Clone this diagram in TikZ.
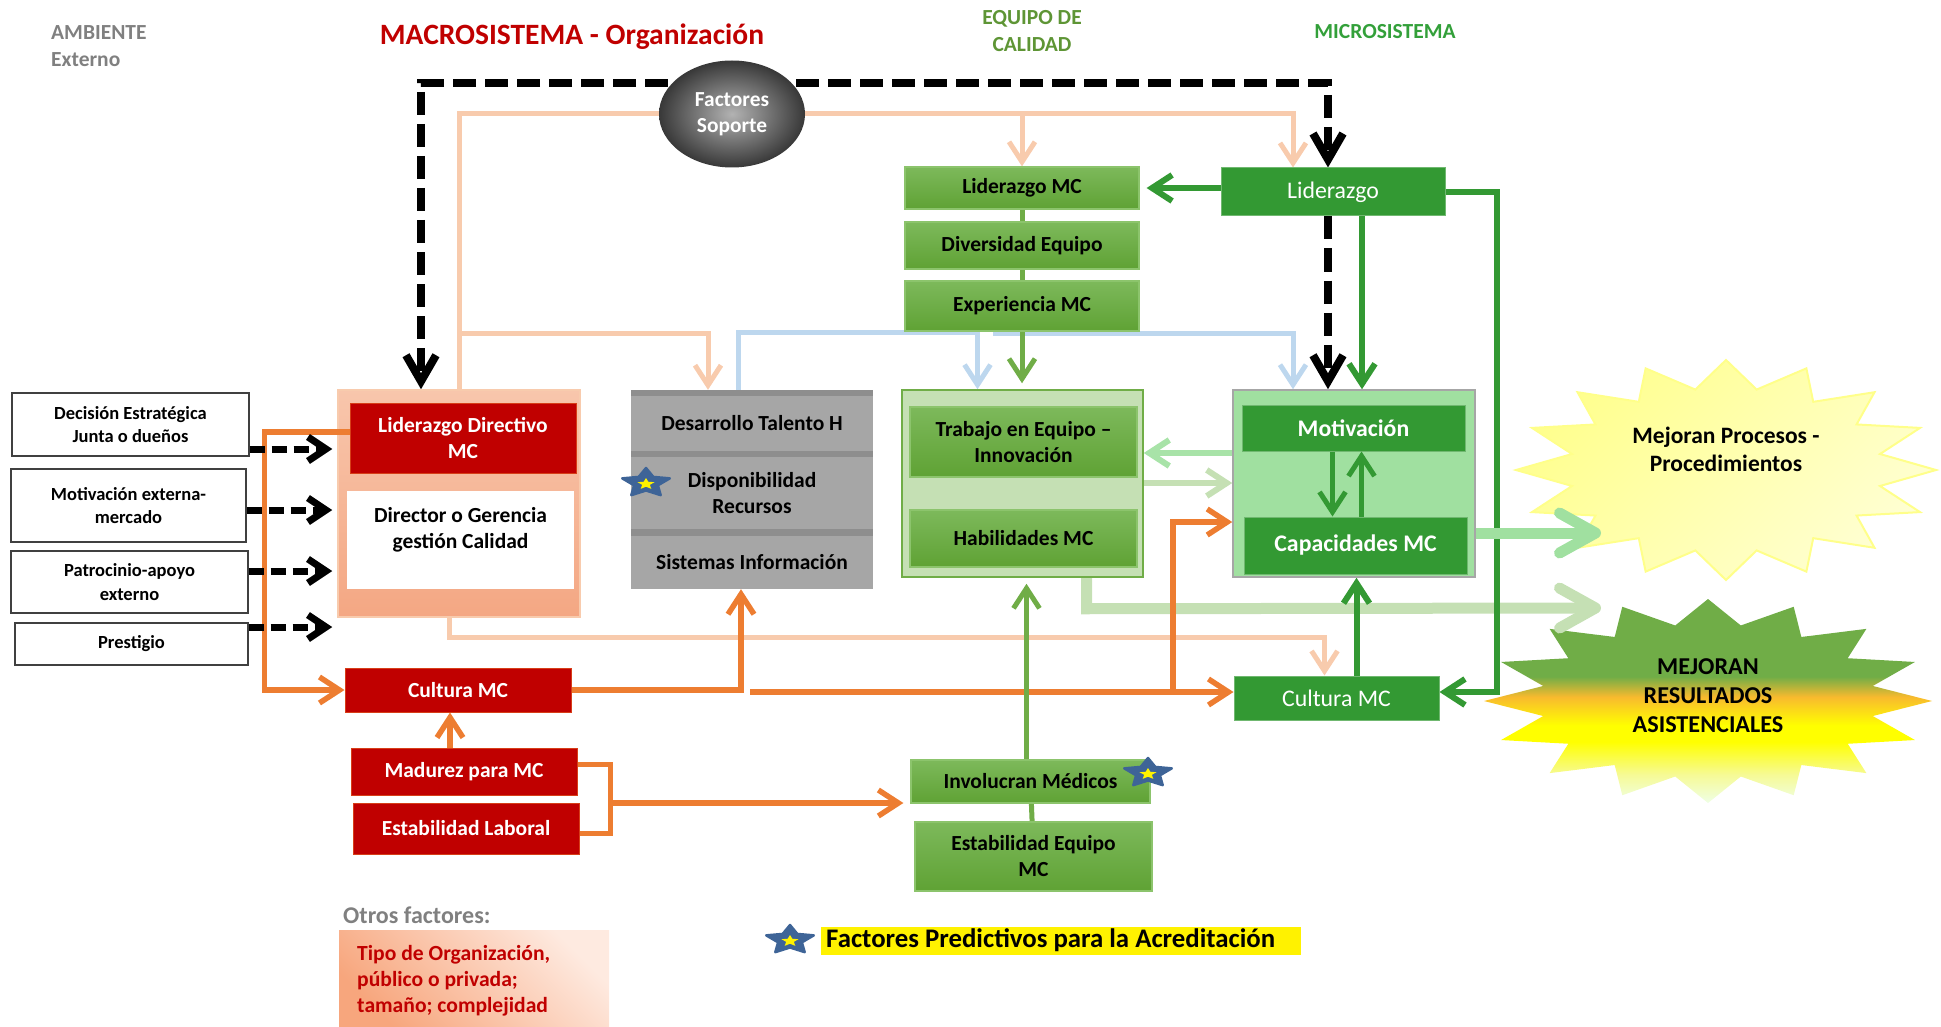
\documentclass[tikz,border=0pt]{standalone}
\usepackage{fontspec}
\setmainfont{Carlito}
\usetikzlibrary{arrows.meta, calc, positioning, shapes.geometric}

\definecolor{rojo}{HTML}{C00000}
\definecolor{naranja}{HTML}{ED7D31}
\definecolor{durazno}{HTML}{F8CBAD}
\definecolor{celeste}{HTML}{BDD7EE}
\definecolor{verdeosc}{HTML}{339933}
\definecolor{verdemc}{HTML}{70AD47}
\definecolor{verdeA}{HTML}{7DB95B}
\definecolor{verdeB}{HTML}{5FA234}
\definecolor{verdeborde}{HTML}{8CC46C}
\definecolor{verdeclaro}{HTML}{C5E0B4}
\definecolor{verdementa}{HTML}{A0E0A0}
\definecolor{flechamenta}{HTML}{A8E3A8}
\definecolor{gris}{HTML}{A6A6A6}
\definecolor{grisband}{HTML}{8E8E8E}
\definecolor{gristxt}{HTML}{808080}
\definecolor{azulest}{HTML}{3E6497}
\definecolor{oliva}{HTML}{5E9535}
\definecolor{verdetit}{HTML}{33A03A}
\definecolor{grupoA}{HTML}{F8C6AC}
\definecolor{grupoB}{HTML}{F4A783}
\definecolor{otrosA}{HTML}{FEEAE0}
\definecolor{otrosB}{HTML}{F7A67D}
\definecolor{mpA}{HTML}{FFFF8E}
\definecolor{mpB}{HTML}{FFFFD2}
\definecolor{mpborde}{HTML}{FFFF8A}
\definecolor{respale}{HTML}{EFFFE6}
\definecolor{reslimon}{HTML}{F6FA95}
\definecolor{resamar}{HTML}{FFFF00}
\definecolor{resnaranja}{HTML}{F8BA2E}
\pgfdeclareverticalshading{resultshade}{100bp}{color(0bp)=(respale); color(25bp)=(respale);
  color(32bp)=(reslimon); color(40bp)=(resamar); color(44bp)=(resamar);
  color(51bp)=(resnaranja); color(56bp)=(verdemc); color(100bp)=(verdemc)}
\pgfdeclarelayer{bg}
\pgfsetlayers{bg,main}

\begin{document}
\begin{tikzpicture}[x=1pt, y=-1pt,
  sz/.style 2 args={minimum width=#1pt, minimum height=#2pt, inner sep=0pt},
  txt/.style={font=\fontsize{21.5}{26}\selectfont\bfseries, align=center},
  ext/.style={txt, font=\fontsize{18.5}{23.5}\selectfont\bfseries, draw=black!75, line width=1.2pt, fill=white},
  rojobox/.style={txt, fill=rojo, draw=naranja!50!rojo, line width=1pt, text=white},
  verdebox/.style={txt, top color=verdeA, bottom color=verdeB, draw=verdeborde, line width=1.2pt},
  oscbox/.style={txt, font=\fontsize{23.8}{28}\selectfont\bfseries, fill=verdeosc, draw=verdeosc!70!white, line width=1pt, text=white},
  grisbox/.style={txt, fill=gris},
  titulo/.style={font=\fontsize{21.5}{27}\selectfont\bfseries, align=center, inner sep=0pt},
  pch/.style={draw=durazno, line width=5pt},
  cel/.style={draw=celeste, line width=5pt},
  nar/.style={draw=naranja, line width=5.5pt},
  vmc/.style={draw=verdemc, line width=5pt},
  vos/.style={draw=verdeosc, line width=6pt},
  punta/.style={-{Straight Barb[length=20pt, width=26pt]}},
  negra/.style={draw=black, line width=8pt, dash pattern=on 23pt off 9pt, -{Straight Barb[length=26pt, width=30pt]}},
  negrita/.style={draw=black, line width=7pt, dash pattern=on 15pt off 7pt, -{Straight Barb[length=18pt, width=24pt]}},
  ancha/.style={line width=11pt, -{Straight Barb[length=36pt, width=40pt, round]}},
  predstar/.pic={
    \filldraw[azulest, line width=2.5pt, line join=round] plot[samples at={0,...,9}]
      ({25*ifthenelse(mod(\x,2)==0,1,0.5)*cos(-90+36*\x)}, {15*ifthenelse(mod(\x,2)==0,1,0.5)*sin(-90+36*\x)}) -- cycle;
    \fill[yellow] plot[samples at={0,...,9}]
      ({9*ifthenelse(mod(\x,2)==0,1,0.45)*cos(-90+36*\x)}, {1+6*ifthenelse(mod(\x,2)==0,1,0.45)*sin(-90+36*\x)}) -- cycle;
  }]
  \useasboundingbox (0,0) rectangle (1941,1027);

  % titulos
  \node[titulo, text=gristxt, align=left, anchor=west] (amb) at (51,46.5) {AMBIENTE\\Externo};
  \node[titulo, text=rojo, font=\fontsize{29.5}{34}\selectfont\bfseries] (macro) at (572,37) {MACROSISTEMA - Organización};
  \node[titulo, text=oliva] (equipo) at (1032,31) {EQUIPO DE\\CALIDAD};
  \node[titulo, text=verdetit] (micro) at (1385,32) {MICROSISTEMA};

  % ambiente externo
  \node[ext, sz={237}{63}] (dec) at (130.5,424.5) {Decisión Estratégica\\Junta o dueños};
  \node[ext, sz={235}{73}] (mot) at (128.5,505.5) {Motivación externa-\\mercado};
  \node[ext, sz={237}{62}] (pat) at (129.5,582) {Patrocinio-apoyo\\externo};
  \node[ext, sz={233}{42}] (pre) at (131.5,644) {Prestigio};

  % macrosistema
  \node[sz={242}{227}, top color=grupoA, bottom color=grupoB, draw=durazno, line width=1.5pt] (grp) at (459,503.5) {};
  \node[rojobox, sz={226}{70}] (ld) at (463,438) {Liderazgo Directivo\\MC};
  \node[fill=white, sz={227}{98}] (dg) at (460.5,540) {};
  \node[txt] (dgt) at (460.5,529.5) {Director o Gerencia\\gestión Calidad};
  \node[rojobox, sz={226}{44}] (cr) at (458,690) {Cultura MC};
  \node[rojobox, sz={226}{47}] (md) at (464,771.5) {Madurez para MC};
  \node[rojobox, sz={226}{51}] (el) at (466,828.5) {Estabilidad Laboral};

  \node[fill=grisband, sz={242}{199}] (gg) at (752,489.5) {};
  \node[grisbox, sz={242}{55}] (desa) at (752,423.5) {Desarrollo Talento H};
  \node[grisbox, sz={242}{72}] (disp) at (752,493) {Disponibilidad\\Recursos};
  \node[grisbox, sz={242}{53}] (sist) at (752,562.5) {Sistemas Información};

  \node[ellipse, sz={146}{107}, inner color=black!30, outer color=black!78, text=white,
        font=\fontsize{21.4}{26}\selectfont\bfseries, align=center] (fs) at (732,114) {Factores\\Soporte};

  % equipo de calidad
  \node[verdebox, sz={234}{42}] (lmc) at (1022,188) {Liderazgo MC};
  \node[verdebox, sz={234}{47}] (div) at (1022,245.5) {Diversidad Equipo};
  \node[verdebox, sz={234}{50}] (exp) at (1022,306) {Experiencia MC};
  \node[sz={241}{187}, fill=verdeclaro, draw=verdemc, line width=1.5pt] (tg) at (1022.5,483.5) {};
  \node[verdebox, sz={227}{70}] (trab) at (1023.5,442) {Trabajo en Equipo –\\Innovación};
  \node[verdebox, sz={227}{57}] (hab) at (1023.5,538.5) {Habilidades MC};
  \node[verdebox, sz={239}{43}] (im) at (1030.5,781.5) {Involucran Médicos};
  \node[verdebox, sz={237}{69}] (ee) at (1033.5,856.5) {Estabilidad Equipo\\MC};

  % microsistema
  \node[oscbox, font=\fontsize{23.8}{28}\selectfont, sz={224}{48}] (lid) at (1333,192) {Liderazgo};
  \node[sz={242}{187}, fill=verdementa, draw=gris, line width=1.5pt] (mg) at (1354,483.5) {};
  \node[oscbox, sz={223}{46}] (motiv) at (1353.5,428) {Motivación};
  \node[oscbox, sz={223}{57}] (cap) at (1355.5,545.5) {Capacidades MC};
  \node[oscbox, font=\fontsize{23.8}{28}\selectfont, sz={205}{44}] (cg) at (1336.5,698) {Cultura MC};
  \draw[vos, punta, line width=5pt] ([xshift=-21pt]motiv.south) -- ([xshift=-21pt]motiv.south |- cap.north);
  \draw[vos, punta, line width=5pt] ([xshift=6pt]cap.north) -- ([xshift=6pt]cap.north |- motiv.south);

  % resultados
  \node[txt, font=\fontsize{23.5}{28}\selectfont\bfseries] (mp) at (1726,449) {Mejoran Procesos -\\Procedimientos};
  \node[txt, font=\fontsize{24.2}{29}\selectfont\bfseries] (mr) at (1708,696) {MEJORAN\\RESULTADOS\\ASISTENCIALES};
  \coordinate (mpin) at (1601,533);
  \coordinate (mrin) at (1601,608);

  % otros factores y leyenda
  \node[titulo, text=gristxt, anchor=west, font=\fontsize{24}{28}\selectfont\bfseries] (otros) at (343,915) {Otros factores:};
  \node[sz={270}{97}, top color=otrosA, bottom color=otrosB, shading angle=-45] (otrobox) at (474,978.5) {};
  \node[font=\fontsize{21.6}{26}\selectfont\bfseries, text=rojo, align=left, anchor=west, inner sep=0pt] (otrotxt) at (357,981) {Tipo de Organización,\\público o privada;\\tamaño; complejidad};
  \node[fill=yellow, anchor=west, inner xsep=5pt, inner ysep=1pt, text width=470pt, align=flush left, text height=19pt, text depth=7pt,
        font=\fontsize{26.8}{31}\selectfont\bfseries] (leg) at (821,941) {Factores Predictivos para la Acreditación};

  \pic at (646,483) {predstar};
  \pic at (1148,773) {predstar};
  \pic at (790,940) {predstar};

  % puntos sueltos de las lineas
  \coordinate (dtop) at (732,83);
  \coordinate (pj) at (459,333);
  \coordinate (bj) at (993,333);
  \coordinate (oj) at (750,692);
  \coordinate (ok) at (1173,692);
  \coordinate (obr) at (610,803);

  \begin{pgfonlayer}{bg}
    % estrellas
    \shadedraw[top color=mpA, bottom color=mpB, shading angle=45, draw=mpborde, line width=2pt]
      plot[samples at={0,...,31}] ({1726+ifthenelse(mod(\x,2)==0,210,157)*cos(90+11.25*\x)},
                                   {470+ifthenelse(mod(\x,2)==0,110,82)*sin(90+11.25*\x)}) -- cycle;
    \shade[shading=resultshade]
      plot[samples at={0,...,31}] ({1708+ifthenelse(mod(\x,2)==0,224,168)*cos(90+11.25*\x)},
                                   {701+ifthenelse(mod(\x,2)==0,102,77)*sin(90+11.25*\x)}) -- cycle;
    % flecha ancha a resultados
    \draw[ancha, draw=verdeclaro] ([xshift=64pt]tg.south) -- ++(0,31) -- (mrin);
    % durazno
    \draw[pch] (fs.west) -| (grp.north);
    \draw[pch, punta] (pj) -| ([xshift=-44pt]gg.north);
    \draw[pch, punta] (fs.east) -| ([xshift=-40pt]lid.north);
    \draw[pch, punta] (lmc.north |- fs.east) -- (lmc.north);
    \draw[pch, punta] ([xshift=-10pt]grp.south) -- ++(0,20) -| ([xshift=-12pt]cg.north);
    % celeste
    \draw[cel, punta] ([xshift=-14pt]gg.north) -- ++(0,-57) -| ([xshift=-45pt]tg.north);
    \draw[cel, punta] (bj) -| ([xshift=-61pt]mg.north);
    % naranja
    \draw[nar, punta] (cr.east) -| ([xshift=-11pt]gg.south);
    \draw[nar, punta] (oj) -- (oj -| cg.west);
    \draw[nar, punta] (ok) |- (mg.west |- 0,522);
    \draw[nar, punta] ([xshift=-14pt]md.north) -- ([xshift=-14pt]md.north |- cr.south);
    \draw[nar] ([yshift=7pt]md.east) -- ++(33,0) |- ([yshift=-5pt]el.east);
    \draw[nar, punta, shorten >=7pt] (obr) -- (obr -| im.west);
    % verde equipo
    \draw[vmc] (lmc) -- (exp);
    \draw[vmc, punta, shorten >=6pt] (exp.south) -- (exp.south |- tg.north);
    \draw[vmc, punta, shorten >=6pt] ([xshift=-4pt]im.north) -- ([xshift=-4pt]im.north |- tg.south);
    \draw[vmc] (im) -- (ee);
    % verde micro
    \draw[vos, punta, shorten >=7pt] (lid.west |- lmc.east) -- (lmc.east);
    \draw[vos, punta] (lid.east) -- ++(51,0) |- ([yshift=6pt]cg.east);
    \draw[vos, punta] ([xshift=29pt]lid.south) -- ([xshift=29pt]lid.south |- mg.north);
    \draw[vos, punta] ([xshift=20pt]cg.north) -- ([xshift=20pt]cg.north |- mg.south);
    % menta
    \draw[ancha, draw=verdementa] (cap.east |- mpin) -- (mpin);
    \draw[punta, draw=flechamenta, line width=6pt] (mg.west |- 0,453) -- (tg.east |- 0,453);
    \draw[punta, draw=verdeclaro, line width=6pt] (tg.east |- 0,483) -- (mg.west |- 0,483);
    % negras
    \draw[negra] (dtop) -| ([xshift=-38pt]grp.north);
    \draw[negra] (dtop) -| ([xshift=-5pt]lid.north);
    \draw[negra] ([xshift=-5pt]lid.south) -- ([xshift=-5pt]lid.south |- mg.north);
  \end{pgfonlayer}

  % liderazgo directivo hacia cultura
  \draw[nar, punta] ([yshift=6pt]ld.west) -- ++(-85,0) |- (cr.west);
  \draw[negrita, shorten >=5pt] (dec.east |- 0,449) -- (grp.west |- 0,449);
  \draw[negrita, shorten >=5pt] (mot.east |- 0,510) -- (grp.west |- 0,510);
  \draw[negrita, shorten >=5pt] (pat.east |- 0,571) -- (grp.west |- 0,571);
  \draw[negrita, shorten >=5pt] (pre.east |- 0,627) -- (grp.west |- 0,627);
\end{tikzpicture}
\end{document}
